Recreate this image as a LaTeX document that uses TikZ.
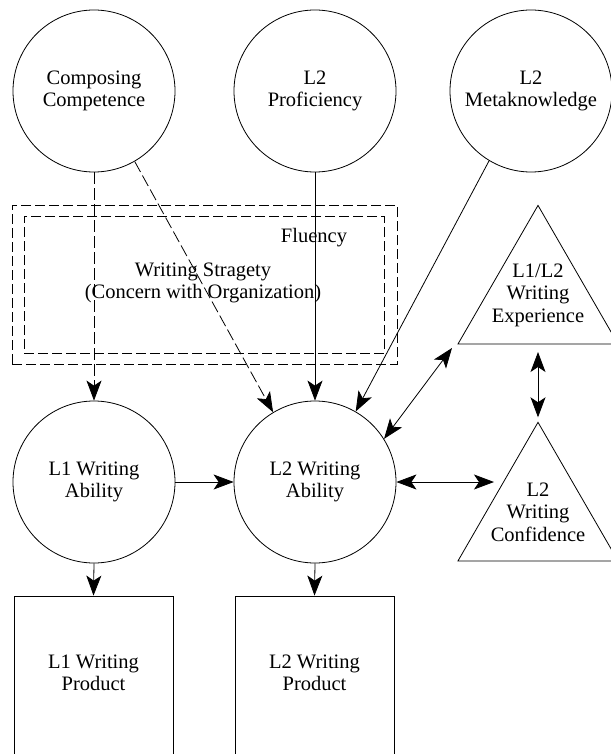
\documentclass[tikz,border=0pt]{standalone}
\usepackage{fontspec}
\setmainfont{Liberation Serif}
\usetikzlibrary{arrows.meta,shapes.geometric}
\tikzset{bigtip/.tip={Stealth[length=20pt,width=15pt,inset=5pt,fill=black]}}
\begin{document}
\begin{tikzpicture}[
  every node/.style={font=\fontsize{20.5}{22.5}\selectfont, align=center},
  bubble/.style={draw, circle, minimum size=162pt, inner sep=0pt, line width=0.8pt},
  tri/.style={draw, regular polygon, regular polygon sides=3, minimum size=184.8pt, inner sep=0pt, outer sep=0pt, line width=0.8pt},
  box/.style={draw, rectangle, minimum width=159pt, minimum height=200pt, inner sep=0pt, line width=0.8pt},
  frame/.style={draw, dash pattern=on 10pt off 4pt, line width=0.8pt, inner sep=0pt},
  conn/.style={line width=0.8pt, -bigtip},
  dconn/.style={line width=0.8pt, bigtip-bigtip},
  dashconn/.style={conn, dash pattern=on 12pt off 4pt},
]
\begin{scope}[x=1pt,y=-1pt]
\useasboundingbox (0,0) rectangle (610,754);
% top row
\node[bubble] (cc) at (94,91) {Composing\\Competence};
\node[bubble] (pr) at (315,91) {L2\\Proficiency};
\node[bubble] (mk) at (531,91) {L2\\Metaknowledge};
% frames
\node[frame, minimum width=385pt, minimum height=159pt] (outer) at (204.5,284.5) {};
\node[frame, minimum width=360pt, minimum height=137pt] (inner) at (204,284.5) {};
\node (flu) at (314,238) {Fluency};
\node (ws) at (203,283) {Writing Stragety\\(Concern with Organization)};
% abilities
\node[bubble] (l1a) at (94,482) {L1 Writing\\Ability};
\node[bubble] (l2a) at (315,482) {L2 Writing\\Ability};
% triangles
\node[tri] (exp) at (538,297.8) {};
\node (expt) at (538,295) {L1/L2\\Writing\\Experience};
\node[tri] (conf) at (538,514.7) {};
\node (conft) at (538,512) {L2\\Writing\\Confidence};
% products
\node[box] (p1) at (93.5,696) {};
\node (p1t) at (93.5,673) {L1 Writing\\Product};
\node[box] (p2) at (314.5,696) {};
\node (p2t) at (314.5,673) {L2 Writing\\Product};
% free ends
\coordinate (ea) at ([shift={(-6,4)}]exp.corner 2);
\coordinate (ht) at (494,482);
% connectors
\draw[dashconn] (cc.south) -- (l1a.north);
\draw[dashconn] (cc.-60) -- (l2a.121);
\draw[conn] (pr.south) -- (l2a.north);
\draw[conn] (mk.-121) -- (l2a.60);
\draw[dconn] (ea) -- (l2a.32);
\draw[dconn, shorten <=8pt, shorten >=5pt] (exp.side 2) -- (conf.corner 1);
\draw[dconn] (l2a.east) -- (ht);
\draw[conn] (l1a.east) -- (l2a.west);
\draw[conn] (l1a.south) -- (p1.north);
\draw[conn] (l2a.south) -- (p2.north);
\end{scope}
\end{tikzpicture}
\end{document}
